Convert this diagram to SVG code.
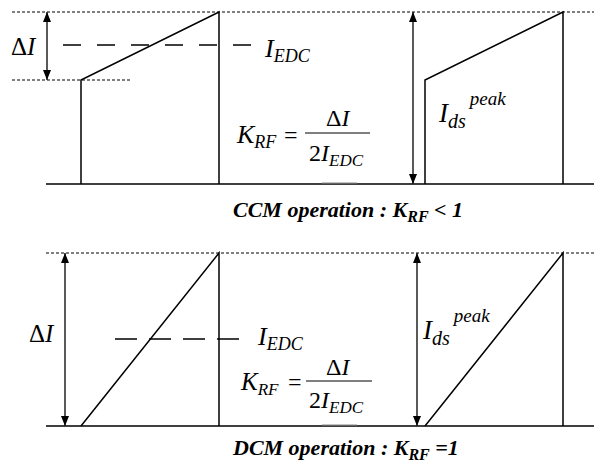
<svg xmlns="http://www.w3.org/2000/svg" width="594" height="464" viewBox="0 0 594 464">
<style>
.ln{stroke:#000;stroke-width:1.5;fill:none}
.dot{stroke:#000;stroke-width:1;stroke-dasharray:3 2;fill:none}
.dash1{stroke:#000;stroke-width:1.3;stroke-dasharray:18 16;fill:none}
.dash2{stroke:#000;stroke-width:1.3;stroke-dasharray:22 12;fill:none}
.arr{stroke:#222;stroke-width:1.5;fill:none;marker-start:url(#ah);marker-end:url(#ah)}
text{font-family:'Liberation Serif','Tinos','DejaVu Serif',serif}
.m{font-style:italic;fill:#000}
.u{font-style:normal;fill:#000}
.cap{font-style:italic;font-weight:bold;font-size:22px;fill:#000}
</style>
<defs>
<marker id="ah" viewBox="0 0 10 8" refX="10" refY="4" markerWidth="10" markerHeight="8" markerUnits="userSpaceOnUse" orient="auto-start-reverse">
<path d="M0,0 L10,4 L0,8 Z" fill="#000"/>
</marker>
</defs>
<g id="ccm">
<g id="ccm-guides">
<line class="dot" x1="12" y1="12" x2="594" y2="12"/>
<line class="dot" x1="12" y1="80" x2="130" y2="80"/>
<line class="dash1" x1="63" y1="45" x2="253" y2="45"/>
<line class="ln" x1="46" y1="184" x2="594" y2="184"/>
<line x1="322" y1="183" x2="357" y2="183" stroke="#888" stroke-width="1"/>
</g>
<g id="ccm-wave1">
<polyline class="ln" points="81,184 81,80 219,12 219,184"/>
</g>
<g id="ccm-wave2">
<polyline class="ln" points="425,184 425,80 563,12 563,184"/>
</g>
<g id="ccm-arrows">
<line class="arr" x1="47" y1="12" x2="47" y2="80"/>
<line class="arr" x1="413" y1="12" x2="413" y2="184"/>
</g>
<g id="ccm-labels">
<text x="11" y="55" font-size="25"><tspan class="u">Δ</tspan><tspan class="m">I</tspan></text>
<text class="m" x="265" y="57" font-size="26">I<tspan font-size="18" dy="5">EDC</tspan></text>
<text class="m" x="237" y="143" font-size="26">K<tspan font-size="18" dy="5">RF</tspan></text>
<text class="u" x="284" y="143" font-size="24">=</text>
<text x="326" y="126" font-size="24"><tspan class="u">Δ</tspan><tspan class="m">I</tspan></text>
<line x1="305" y1="133" x2="370" y2="133" stroke="#000" stroke-width="1.2"/>
<text x="309" y="161" font-size="24"><tspan class="u">2</tspan><tspan class="m">I</tspan><tspan class="m" font-size="17" dy="5">EDC</tspan></text>
<text class="m" x="439" y="122" font-size="27">I<tspan font-size="20" dy="6">ds</tspan><tspan font-size="19" dy="-23" dx="4">peak</tspan></text>
</g>
<text class="cap" x="233" y="217">CCM operation : K<tspan font-size="16" dy="5">RF</tspan><tspan dy="-5"> &lt; 1</tspan></text>
</g>
<g id="dcm">
<g id="dcm-guides">
<line class="dot" x1="46" y1="253" x2="594" y2="253"/>
<line class="dash2" x1="115" y1="339" x2="241" y2="339"/>
<line class="ln" x1="46" y1="426" x2="594" y2="426"/>
<line x1="322" y1="425" x2="357" y2="425" stroke="#888" stroke-width="1"/>
</g>
<g id="dcm-wave1">
<polyline class="ln" points="81,426 219,253 219,426"/>
</g>
<g id="dcm-wave2">
<polyline class="ln" points="425,426 563,253 563,426"/>
</g>
<g id="dcm-arrows">
<line class="arr" x1="65" y1="253" x2="65" y2="426"/>
<line class="arr" x1="417" y1="253" x2="417" y2="426"/>
</g>
<g id="dcm-labels">
<text x="29" y="342" font-size="25"><tspan class="u">Δ</tspan><tspan class="m">I</tspan></text>
<text class="m" x="258" y="345" font-size="26">I<tspan font-size="18" dy="5">EDC</tspan></text>
<text class="m" x="241" y="390" font-size="25">K<tspan font-size="17" dy="5">RF</tspan></text>
<text class="u" x="288" y="390" font-size="24">=</text>
<text x="326" y="375" font-size="24"><tspan class="u">Δ</tspan><tspan class="m">I</tspan></text>
<line x1="306" y1="381" x2="372" y2="381" stroke="#000" stroke-width="1.2"/>
<text x="309" y="408" font-size="24"><tspan class="u">2</tspan><tspan class="m">I</tspan><tspan class="m" font-size="17" dy="5">EDC</tspan></text>
<text class="m" x="423" y="339" font-size="27">I<tspan font-size="20" dy="6">ds</tspan><tspan font-size="19" dy="-23" dx="4">peak</tspan></text>
</g>
<text class="cap" x="233" y="455">DCM operation : K<tspan font-size="16" dy="5">RF</tspan><tspan dy="-5"> =1</tspan></text>
</g>
</svg>
